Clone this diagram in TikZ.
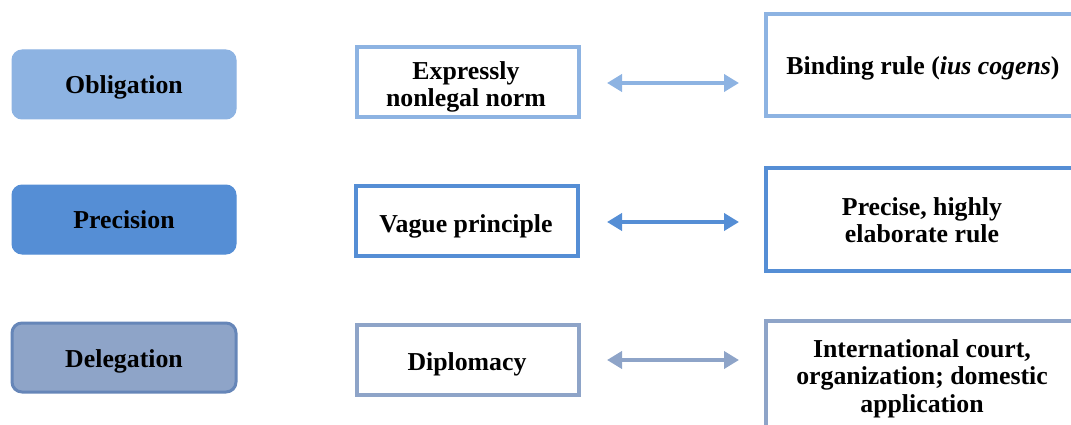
\documentclass[tikz,border=0pt]{standalone}
\usepackage{fontspec}
\setmainfont{Liberation Serif}
\usetikzlibrary{arrows.meta}
\definecolor{cOne}{HTML}{8DB3E2}
\definecolor{cTwo}{HTML}{558ED5}
\definecolor{cThree}{HTML}{8EA4C8}
\definecolor{cThreeDark}{HTML}{6686B8}
\tikzset{
  lbl/.style={font=\fontsize{25.8}{27}\selectfont\bfseries, align=center, inner sep=0pt, anchor=base},
  catbox/.style={rounded corners=10pt, minimum width=224pt, minimum height=69pt, draw=#1, fill=#1, line width=1pt},
  midbox/.style={draw=#1, fill=white, line width=4pt, minimum width=222pt, minimum height=70pt},
  rightbox/.style={draw=#1, fill=white, line width=4pt, minimum width=314pt},
  dblarrow/.style={draw=#1, line width=4.5pt, {Triangle[length=15pt,width=17pt]}-{Triangle[length=15pt,width=17pt]}},
}
\begin{document}
\begin{tikzpicture}[x=1pt,y=-1pt]
\useasboundingbox (0,0) rectangle (1071,425);
\clip (0,0) rectangle (1071,425);
% left category boxes
\node[catbox=cOne] (obl) at (124,84.5) {};
\node[catbox=cTwo] (pre) at (124,219.5) {};
\node[catbox=cThree, draw=cThreeDark, line width=3pt] (del) at (124,357.5) {};
\node[lbl] (oblt) at (124,94) {Obligation};
\node[lbl] (pret) at (124,228) {Precision};
\node[lbl] (delt) at (124,367) {Delegation};
% middle boxes
\node[midbox=cOne] (exp) at (467.5,82.5) {};
\node[midbox=cTwo] (vag) at (467,221) {};
\node[midbox=cThree] (dip) at (467.5,359.5) {};
\node[lbl, font=\fontsize{25.8}{28}\selectfont\bfseries] (expt) at (466,107) {Expressly\\nonlegal norm};
\node[lbl] (vagt) at (466,232) {Vague principle};
\node[lbl] (dipt) at (467,370) {Diplomacy};
% right boxes
\node[rightbox=cOne, minimum height=102pt] (bin) at (923,65) {};
\node[rightbox=cTwo, minimum height=103pt] (prc) at (923,219.5) {};
\node[rightbox=cThree, minimum height=110pt] (int) at (923,376) {};
\node[lbl] (bint) at (923,75) {Binding rule (\textit{ius cogens})};
\node[lbl] (prct) at (922,242) {Precise, highly\\elaborate rule};
\node[lbl, font=\fontsize{25.8}{27.5}\selectfont\bfseries] (intt) at (922,412) {International court,\\organization; domestic\\application};
% arrows
\coordinate (a1l) at (607,83); \coordinate (a1r) at (739,83);
\coordinate (a2l) at (607,222); \coordinate (a2r) at (739,222);
\coordinate (a3l) at (607,360); \coordinate (a3r) at (739,360);
\path[dblarrow=cOne] (a1l) -- (a1r);
\path[dblarrow=cTwo] (a2l) -- (a2r);
\path[dblarrow=cThree] (a3l) -- (a3r);
\end{tikzpicture}
\end{document}
